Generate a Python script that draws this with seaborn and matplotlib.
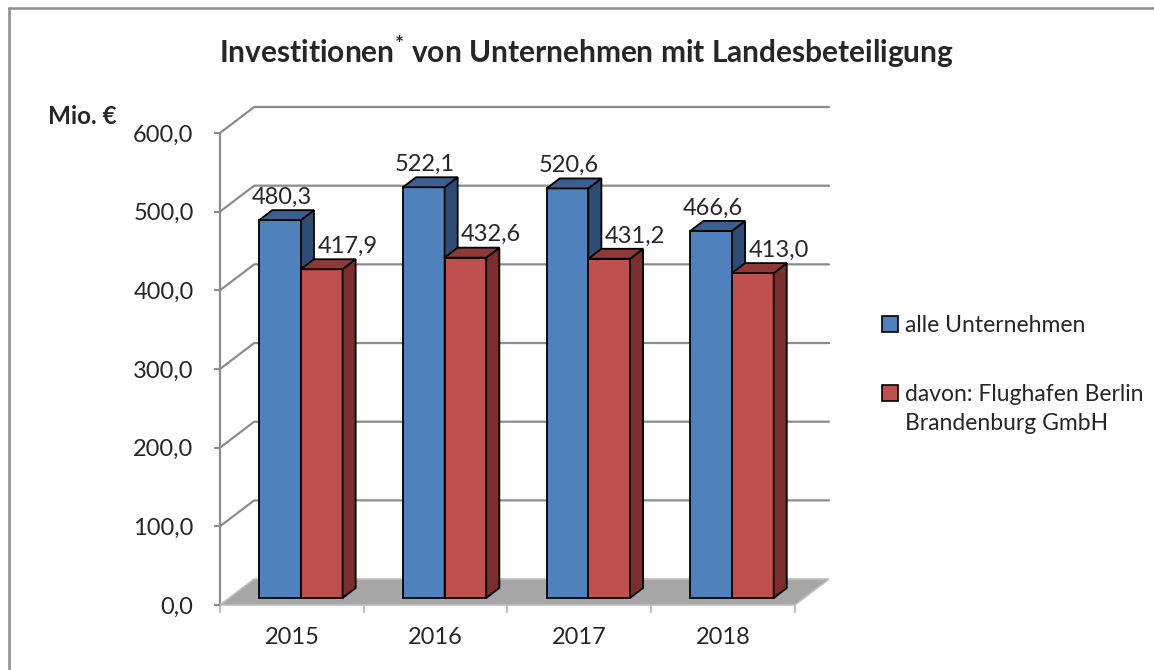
import numpy as np
import pandas as pd
import matplotlib
matplotlib.use('Agg')
import matplotlib.pyplot as plt
from matplotlib.patches import Polygon
from matplotlib.lines import Line2D
from matplotlib.ticker import FixedLocator
import seaborn as sns

sns.set_style('white')
plt.rcParams['font.family'] = ['Lato', 'DejaVu Sans']
plt.rcParams['mathtext.fontset'] = 'custom'
plt.rcParams['mathtext.rm'] = 'Lato'
plt.rcParams['mathtext.bf'] = 'Lato:bold'

# data
years = ['2015', '2016', '2017', '2018']
alle = [480.3, 522.1, 520.6, 466.6]
flughafen = [417.9, 432.6, 431.2, 413.0]
series_names = ['alle Unternehmen', 'davon: Flughafen Berlin']
series_name_2nd_line = 'Brandenburg GmbH'
y_ticks = [0, 100, 200, 300, 400, 500, 600]

df = pd.DataFrame({
    'Jahr': years * 2,
    'Wert': alle + flughafen,
    'Reihe': [series_names[0]] * 4 + [series_names[1]] * 4,
})

front_col = ['#4f81bd', '#c0504d']
top_col = ['#3b5f8f', '#8e3a38']
side_col = ['#2f4d74', '#7a2f2d']

# 3d projection offsets (in data units)
DX, DY = 0.238, 33.0      # full depth of the box
OX, OY = 0.063, 8.9       # front of the bars
BDX, BDY = 0.091, 12.7    # depth of a bar
grid_c = '#8c8c8c'
fs = 17

fig = plt.figure(figsize=(11.54, 6.70), dpi=100)
ax = fig.add_axes([220 / 1154, 65 / 670, 609 / 1154, 498 / 670])

sns.barplot(data=df, x='Jahr', y='Wert', hue='Reihe', palette=front_col,
            width=0.58, dodge=True, ax=ax, legend=False,
            edgecolor='black', linewidth=1.3, saturation=1)

ax.set_xlim(-0.5, 3.5 + DX)
ax.set_ylim(0, 600 + DY)

# floor and back walls
floor = Polygon([(-0.5, 0), (3.5, 0), (3.5 + DX, DY), (-0.5 + DX, DY)],
                closed=True, facecolor='#a6a6a6', edgecolor='#bfbfbf',
                linewidth=1.2, zorder=1, clip_on=False)
ax.add_patch(floor)
for v in y_ticks[1:]:
    ax.plot([-0.5, -0.5 + DX, 3.5 + DX], [v, v + DY, v + DY],
            color=grid_c, lw=1.6, zorder=0.5, clip_on=False)
ax.plot([-0.5, -0.5], [0, 600], color=grid_c, lw=1.6, zorder=0.6, clip_on=False)

# move bars into their plane and add top and side faces
for i, cont in enumerate(ax.containers):
    vals = alle if i == 0 else flughafen
    for bar, v in zip(cont, vals):
        x0 = bar.get_x() + OX
        w = bar.get_width()
        bar.set_x(x0)
        bar.set_y(OY)
        bar.set_zorder(3 + i)
        top = Polygon([(x0, OY + v), (x0 + w, OY + v),
                       (x0 + w + BDX, OY + v + BDY), (x0 + BDX, OY + v + BDY)],
                      closed=True, facecolor=top_col[i], edgecolor='black',
                      linewidth=1.3, zorder=3 + i)
        side = Polygon([(x0 + w, OY), (x0 + w + BDX, OY + BDY),
                        (x0 + w + BDX, OY + v + BDY), (x0 + w, OY + v)],
                       closed=True, facecolor=side_col[i], edgecolor='black',
                       linewidth=1.3, zorder=3 + i)
        ax.add_patch(side)
        ax.add_patch(top)
        lab = f'{v:.1f}'.replace('.', ',')
        if i == 0:
            ax.text(x0 + w / 2 + 0.01, OY + v + BDY + 3, lab, ha='center',
                    va='bottom', fontsize=fs, zorder=6)
        else:
            ax.text(x0 + w / 2 + 0.18, OY + v + BDY + 3, lab, ha='center',
                    va='bottom', fontsize=fs, zorder=6)

# axes and ticks
for s in ax.spines.values():
    s.set_visible(False)
ax.set_yticks(y_ticks)
ax.set_yticklabels([f'{t:.1f}'.replace('.', ',') for t in y_ticks], fontsize=fs)
ax.tick_params(axis='y', length=4, width=1.5, color=grid_c, pad=15, left=True)
ax.set_xticks(np.arange(-0.5, 4, 1))
ax.set_xticklabels([])
ax.tick_params(axis='x', which='major', length=6, width=1.5, color='#bfbfbf', bottom=True)
ax.xaxis.set_minor_locator(FixedLocator(range(4)))
ax.set_xticklabels(years, minor=True, fontsize=fs)
ax.tick_params(axis='x', which='minor', length=0, pad=16)
ax.set_xlabel('')
ax.set_ylabel('')

# title and unit
fig.text(587 / 1154, 1 - 52 / 670,
         r'Investitionen$^{\mathbf{*}}$ von Unternehmen mit Landesbeteiligung',
         ha='center', va='center', fontsize=21.5, fontweight='bold')
fig.text(48 / 1154, 1 - 117 / 670, 'Mio. €', ha='left', va='center',
         fontsize=17.5, fontweight='bold')

# legend
handles = [plt.Rectangle((0, 0), 1, 1, facecolor=c, edgecolor='black', lw=1.2)
           for c in front_col]
leg = fig.legend(handles, series_names, loc='upper left',
                 bbox_to_anchor=(861 / 1154, 1 - 294 / 670), frameon=False,
                 fontsize=16.5, handlelength=0.7, handleheight=0.7,
                 handletextpad=0.3, labelspacing=2.1)
# second line of the red entry, below its first line
fig.canvas.draw()
bb = leg.get_texts()[1].get_window_extent().transformed(fig.transFigure.inverted())
fig.text(bb.x0, bb.y0 - 29 / 670, series_name_2nd_line, ha='left', va='bottom',
         fontsize=16.5)

# outer frame
fig.add_artist(Line2D([9 / 1154, 9 / 1154], [0, 1 - 8 / 670], color='#8c8c8c', lw=1.8))
fig.add_artist(Line2D([9 / 1154, 1], [1 - 8 / 670, 1 - 8 / 670], color='#8c8c8c', lw=1.8))

fig.savefig('out.png', dpi=100)
